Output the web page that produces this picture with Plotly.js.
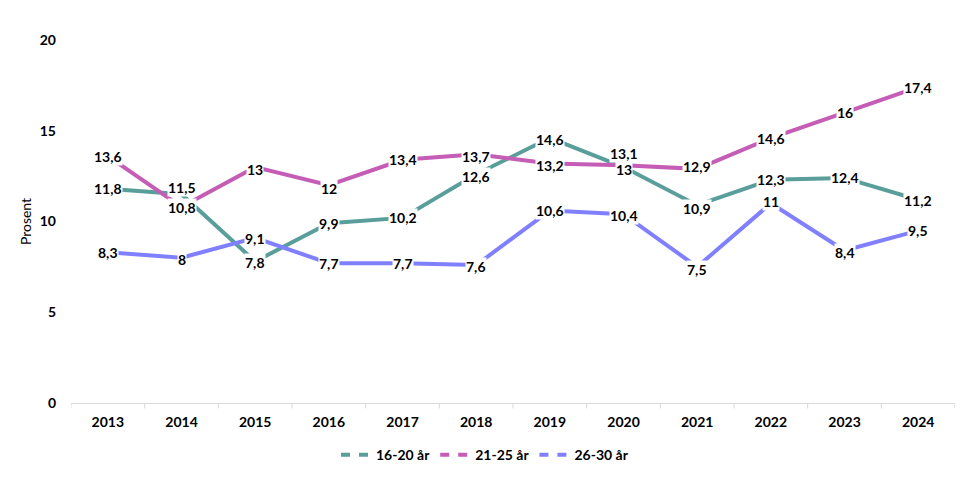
<!DOCTYPE html>
<html><head><meta charset="utf-8">
<script src="https://cdn.plot.ly/plotly-3.0.1.min.js"></script>
<style>html,body{margin:0;padding:0;background:#fff;}#chart{width:970px;height:477px;}</style>
</head><body><div id="chart"></div>
<script>
const years = ['2013','2014','2015','2016','2017','2018','2019','2020','2021','2022','2023','2024'];
const s1620 = [11.8,11.5,7.8,9.9,10.2,12.6,14.6,13,10.9,12.3,12.4,11.2];
const s2125 = [13.6,10.8,13,12,13.4,13.7,13.2,13.1,12.9,14.6,16,17.4];
const s2630 = [8.3,8,9.1,7.7,7.7,7.6,10.6,10.4,7.5,11,8.4,9.5];
const names = ['16-20 år','21-25 år','26-30 år'];
const colors = ['#5A9E9C','#C55CB6','#8080FF'];
const series = [s1620, s2125, s2630];
// label vertical shifts (px) to avoid overlaps
const shifts = [
  [0,7,-1,0,0,-2,-1,-2,-3,0,0,-1],
  [0,-1,-2,-3,0,-2,-2,12,2,0,0,0],
  [0,-2,-1,0,0,-1,0,-1,-3,2,-2,0]
];
const fontFam = 'Lato, "Liberation Sans", Arial, sans-serif';
const idx = years.map((y,k)=>k);
const traces = series.map((s,i)=>({
  x: idx, y: s, type:'scatter', mode:'lines', name:names[i], showlegend:false,
  line:{color:colors[i], width:4}
})).concat(series.map((s,i)=>({
  x: [null], y: [null], type:'scatter', mode:'lines', name:names[i], showlegend:true,
  line:{color:colors[i], width:4, dash:'9px,9px'}
})));
const annotations = [];
series.forEach((s,i)=>{
  s.forEach((v,j)=>{
    annotations.push({x:j, y:v, xref:'x', yref:'y', text:String(v).replace('.',','),
      showarrow:false, yshift:shifts[i][j], bgcolor:'#ffffff', borderpad:0,
      font:{family:fontFam, size:14, color:'#000000', weight:'bold'}});
  });
});
const shapes = [];
for (let k=0;k<=years.length;k++){
  shapes.push({type:'line', xref:'x', yref:'paper', x0:k-0.5, x1:k-0.5, y0:0, y1:-0.015, line:{color:'#d9d9d9', width:1}});
}
const layout = {
  width:970, height:477, paper_bgcolor:'#fff', plot_bgcolor:'#fff',
  margin:{l:71, r:15, t:40, b:74},
  showlegend:true,
  legend:{orientation:'h', x:0.5, xanchor:'center', xref:'container', yref:'container', y:0.046, yanchor:'middle',
    font:{family:fontFam, size:14, color:'#000', weight:'bold'}, traceorder:'normal', itemwidth:30},
  xaxis:{type:'linear', range:[-0.5,11.5], tickmode:'array', tickvals:idx, ticktext:years,
    showline:true, linecolor:'#d9d9d9', linewidth:1,
    ticks:'', showgrid:false, zeroline:false, ticklabelstandoff:6,
    tickfont:{family:fontFam, size:14, color:'#000', weight:'bold'}},
  yaxis:{range:[0,20], dtick:5, showgrid:false, zeroline:false, showline:false, ticks:'',
    ticklabelstandoff:14,
    tickfont:{family:fontFam, size:14, color:'#000', weight:'bold'},
    title:{text:'Prosent', font:{family:fontFam, size:14, color:'#000'}, standoff:4}},
  annotations: annotations,
  shapes: shapes
};
Plotly.newPlot('chart', traces, layout, {displayModeBar:false, staticPlot:true});
</script></body></html>
